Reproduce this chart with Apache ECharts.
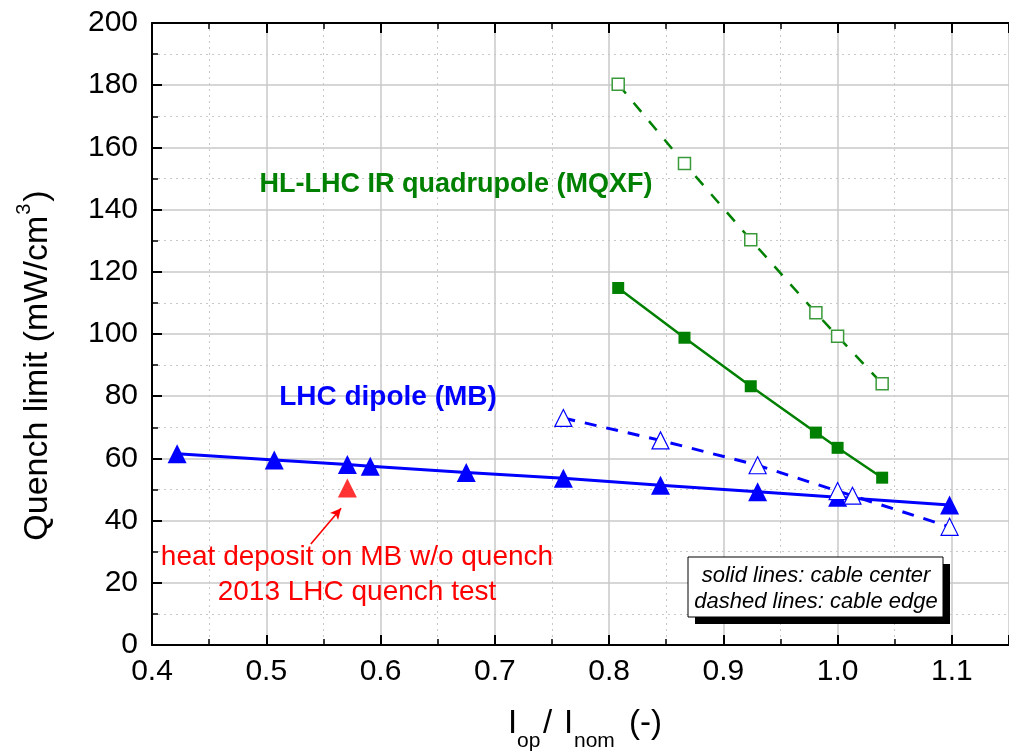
<!DOCTYPE html>
<html>
<head>
<meta charset="utf-8">
<script src="https://cdn.jsdelivr.net/npm/echarts@6/dist/echarts.min.js"></script>
<style>
html, body { margin: 0; padding: 0; background: #fff; }
#main { width: 1009px; height: 752px; }
</style>
</head>
<body>
<div id="main"></div>
<script>
// LHC dipole (MB), cable center (solid) and cable edge (dashed)
var mbCenterX = [0.422, 0.507, 0.571, 0.591, 0.675, 0.760, 0.845, 0.930, 1.000, 1.098];
var mbCenterY = [61.5, 59.5, 58.0, 57.5, 55.5, 53.6, 51.4, 49.3, 47.5, 45.0];
var mbEdgeX = [0.760, 0.845, 0.930, 1.000, 1.013, 1.098];
var mbEdgeY = [73.0, 65.8, 57.8, 49.5, 48.0, 38.0];
// HL-LHC IR quadrupole (MQXF)
var mqxfCenterX = [0.808, 0.866, 0.924, 0.981, 1.000, 1.039];
var mqxfCenterY = [114.8, 98.8, 83.2, 68.3, 63.4, 53.8];
var mqxfEdgeX = [0.808, 0.866, 0.924, 0.981, 1.000, 1.039];
var mqxfEdgeY = [180.3, 154.8, 130.3, 106.8, 99.3, 84.0];
// 2013 LHC quench test
var testX = [0.571];
var testY = [50.5];
var arrowFrom = [0.539, 32.5];
var arrowTo = [0.5655, 44.0];

var xTicks = [0.4, 0.5, 0.6, 0.7, 0.8, 0.9, 1.0, 1.1];
var yTicks = [0, 20, 40, 60, 80, 100, 120, 140, 160, 180, 200];

function pairs(xs, ys) {
	var out = [];
	for (var i = 0; i < xs.length; i++) {
		out.push([xs[i], ys[i]]);
	}
	return out;
}

var FONT = "'Liberation Sans', Arial, sans-serif";
var BLUE = '#0000ff';
var GREEN = '#008000';
var RED = '#ff0000';

// text width helper, used to lay out the title pieces
var ctx = document.createElement('canvas').getContext('2d');
function textW(s, font) {
	ctx.font = font;
	return ctx.measureText(s).width;
}

// y title: "Quench limit (mW/cm" + superscript 3 + ")"
var yMain = '34px ' + FONT, ySup = '20px ' + FONT;
var w1 = textW('Quench limit (mW/cm', yMain);
var w2 = textW('3', ySup);
var w3 = textW(')', yMain);
var yStart = -(w1 + w2 + 2 + w3) / 2;

var myChart = echarts.init(document.getElementById('main'));
var gridColor = '#c8c8c8';

var option = {
	backgroundColor : '#ffffff',
	animation : false,
	grid : {
		left : 152,
		top : 23,
		width : 866,
		height : 622
	},
	xAxis : [ {
		type : 'value',
		min : xTicks[0],
		max : 1.15,
		interval : 0.1,
		axisLine : { lineStyle : { color : '#000', width : 2 } },
		axisTick : { inside : true, length : 10, lineStyle : { color : '#000', width : 2 } },
		minorTick : { show : true, splitNumber : 2, length : 6, lineStyle : { color : '#000', width : 1.5 } },
		splitLine : { show : true, lineStyle : { color : gridColor, width : 1.5 } },
		minorSplitLine : { show : true, lineStyle : { color : gridColor, width : 1, type : [2, 4] } },
		axisLabel : {
			fontFamily : FONT,
			fontSize : 30,
			color : '#000',
			margin : 12,
			showMaxLabel : false,
			formatter : function(v) { return v.toFixed(1); }
		}
	}, {
		type : 'value',
		position : 'top',
		min : xTicks[0],
		max : 1.15,
		interval : 0.1,
		axisLine : { show : true, onZero : false, lineStyle : { color : '#000', width : 2 } },
		axisTick : { inside : true, length : 10, lineStyle : { color : '#000', width : 2 } },
		minorTick : { show : true, splitNumber : 2, length : 6, lineStyle : { color : '#000', width : 1.5 } },
		splitLine : { show : false },
		axisLabel : { show : false }
	} ],
	yAxis : {
		type : 'value',
		min : yTicks[0],
		max : yTicks[yTicks.length - 1],
		interval : 20,
		axisLine : { show : true, lineStyle : { color : '#000', width : 2 } },
		axisTick : { show : true, inside : true, length : 10, lineStyle : { color : '#000', width : 2 } },
		minorTick : { show : true, splitNumber : 2, length : 6, lineStyle : { color : '#000', width : 1.5 } },
		splitLine : { show : true, lineStyle : { color : gridColor, width : 1.5 } },
		minorSplitLine : { show : true, lineStyle : { color : gridColor, width : 1, type : [2, 4] } },
		axisLabel : {
			fontFamily : FONT,
			fontSize : 30,
			color : '#000',
			margin : 14
		}
	},
	series : [ {
		name : 'MB center',
		type : 'line',
		data : pairs(mbCenterX, mbCenterY),
		symbol : 'triangle',
		symbolSize : 19,
		lineStyle : { color : BLUE, width : 3 },
		itemStyle : { color : BLUE }
	}, {
		name : 'MB edge',
		type : 'line',
		data : pairs(mbEdgeX, mbEdgeY),
		symbol : 'triangle',
		symbolSize : 17,
		lineStyle : { color : BLUE, width : 3, type : [12, 10] },
		itemStyle : { color : '#fff', borderColor : BLUE, borderWidth : 1.2 }
	}, {
		name : 'MQXF center',
		type : 'line',
		data : pairs(mqxfCenterX, mqxfCenterY),
		symbol : 'rect',
		symbolSize : 12,
		lineStyle : { color : GREEN, width : 2.5 },
		itemStyle : { color : GREEN }
	}, {
		name : 'MQXF edge',
		type : 'line',
		data : pairs(mqxfEdgeX, mqxfEdgeY),
		symbol : 'rect',
		symbolSize : 12,
		lineStyle : { color : GREEN, width : 2.5, type : [12, 12] },
		itemStyle : { color : '#fff', borderColor : '#3a9a3a', borderWidth : 1.5 }
	}, {
		name : '2013 test',
		type : 'scatter',
		data : pairs(testX, testY),
		symbol : 'triangle',
		symbolSize : 19,
		itemStyle : { color : RED },
		markLine : {
			silent : true,
			symbol : [ 'none', 'arrow' ],
			symbolSize : [ 8, 11 ],
			label : { show : false },
			lineStyle : { color : RED, width : 1.6, type : 'solid' },
			data : [ [ { coord : arrowFrom }, { coord : arrowTo } ] ]
		}
	} ],
	graphic : [
		// y axis title
		{
			type : 'group',
			x : 38,
			y : 366,
			rotation : Math.PI / 2,
			z : 100,
			children : [ {
				type : 'text',
				x : yStart,
				y : 0,
				style : { text : 'Quench limit (mW/cm', font : yMain, fill : '#000', verticalAlign : 'middle' }
			}, {
				type : 'text',
				x : yStart + w1 + 1,
				y : -14,
				style : { text : '3', font : ySup, fill : '#000', verticalAlign : 'middle' }
			}, {
				type : 'text',
				x : yStart + w1 + w2 + 3,
				y : 0,
				style : { text : ')', font : yMain, fill : '#000', verticalAlign : 'middle' }
			} ]
		},
		// x axis title
		{ type : 'text', z : 100, x : 508, y : 724, style : { text : 'I', font : '33px ' + FONT, fill : '#000', verticalAlign : 'middle' } },
		{ type : 'text', z : 100, x : 517, y : 741, style : { text : 'op', font : '21px ' + FONT, fill : '#000', verticalAlign : 'middle' } },
		{ type : 'text', z : 100, x : 543, y : 724, style : { text : '/', font : '33px ' + FONT, fill : '#000', verticalAlign : 'middle' } },
		{ type : 'text', z : 100, x : 564, y : 724, style : { text : 'I', font : '33px ' + FONT, fill : '#000', verticalAlign : 'middle' } },
		{ type : 'text', z : 100, x : 574, y : 741, style : { text : 'nom', font : '21px ' + FONT, fill : '#000', verticalAlign : 'middle' } },
		{ type : 'text', z : 100, x : 629, y : 724, style : { text : '(-)', font : '33px ' + FONT, fill : '#000', verticalAlign : 'middle' } },
		// series annotations
		{ type : 'text', z : 100, x : 456, y : 185, style : { text : 'HL-LHC IR quadrupole (MQXF)', font : 'bold 27px ' + FONT, fill : GREEN, align : 'center', verticalAlign : 'middle' } },
		{ type : 'text', z : 100, x : 388, y : 397, style : { text : 'LHC dipole (MB)', font : 'bold 28px ' + FONT, fill : BLUE, align : 'center', verticalAlign : 'middle' } },
		{ type : 'text', z : 100, x : 357, y : 557, style : { text : 'heat deposit on MB w/o quench', font : '28px ' + FONT, fill : RED, align : 'center', verticalAlign : 'middle' } },
		{ type : 'text', z : 100, x : 357, y : 592, style : { text : '2013 LHC quench test', font : '28px ' + FONT, fill : RED, align : 'center', verticalAlign : 'middle' } },
		// note box with shadow
		{ type : 'rect', z : 100, shape : { x : 695, y : 564, width : 255, height : 60 }, style : { fill : '#000' } },
		{ type : 'rect', z : 101, shape : { x : 688, y : 557, width : 255, height : 60 }, style : { fill : '#fff', stroke : '#000', lineWidth : 1 } },
		{ type : 'text', z : 102, x : 816, y : 576, style : { text : 'solid lines: cable center', font : 'italic 22px ' + FONT, fill : '#000', align : 'center', verticalAlign : 'middle' } },
		{ type : 'text', z : 102, x : 816, y : 602, style : { text : 'dashed lines: cable edge', font : 'italic 22px ' + FONT, fill : '#000', align : 'center', verticalAlign : 'middle' } }
	]
};
myChart.setOption(option);
</script>
</body>
</html>
